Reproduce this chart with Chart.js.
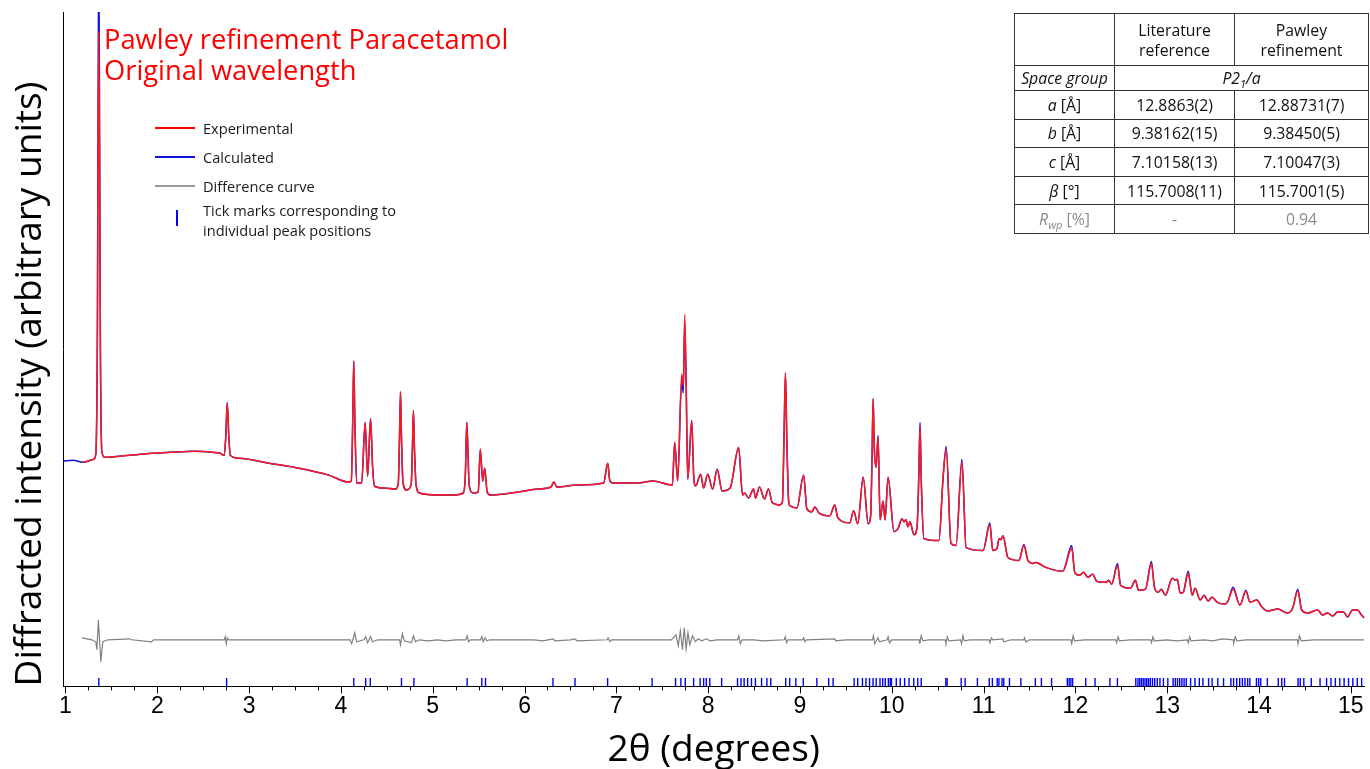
<!DOCTYPE html>
<html>
<head>
<meta charset="utf-8">
<script src="https://cdn.jsdelivr.net/npm/chart.js@4.4.1/dist/chart.umd.min.js"></script>
<style>
  html, body { margin: 0; padding: 0; background: #fff; }
  #wrap { position: relative; width: 1370px; height: 769px; overflow: hidden; }
  #wrap canvas { position: absolute; left: 0; top: 0; }
  .title { position: absolute; left: 104px; top: 23px; color: #f00; font-family: 'Open Sans', sans-serif; font-size: 27.3px; line-height: 31px; white-space: nowrap; }
  .lg { position: absolute; font-family: 'Open Sans', sans-serif; font-size: 14.6px; line-height: 20px; color: #1a1a1a; white-space: nowrap; }
  .sw { position: absolute; left: 155px; width: 40px; height: 2px; }
  .tick { position: absolute; left: 176px; width: 2px; height: 16px; background: #0000ff; }
  table { position: absolute; left: 1014px; top: 13px; border-collapse: collapse; font-family: 'Open Sans', sans-serif; font-size: 15.8px; color: #111; }
  td { border: 1px solid #333; text-align: center; padding: 0; line-height: 20px; }
  tr { height: 28.6px; }
  tr.head { height: 52px; }
  tr.sg { height: 25px; }
  .it { font-style: italic; }
  .grey { color: #8a8a8a; }
  sub { font-size: 11px; line-height: 0; }
</style>
</head>
<body>
<div id="wrap">
  <canvas id="mainChart" width="1370" height="769"></canvas>
  <div class="title">Pawley refinement Paracetamol<br>Original wavelength</div>

  <div class="sw" style="top:127px;background:#ff0000"></div>
  <div class="lg" style="left:203px;top:118px">Experimental</div>
  <div class="sw" style="top:156px;background:#1010e0"></div>
  <div class="lg" style="left:203px;top:147px">Calculated</div>
  <div class="sw" style="top:185px;background:#9a9a9a"></div>
  <div class="lg" style="left:203px;top:176px">Difference curve</div>
  <div class="tick" style="top:210px"></div>
  <div class="lg" style="left:203px;top:200px">Tick marks corresponding to<br>individual peak positions</div>

  <table>
    <colgroup><col style="width:100px"><col style="width:120px"><col style="width:134px"></colgroup>
    <tr class="head"><td></td><td>Literature<br>reference</td><td>Pawley<br>refinement</td></tr>
    <tr class="sg"><td class="it">Space group</td><td colspan="2" class="it">P2<sub>1</sub>/a</td></tr>
    <tr><td><span class="it">a</span> [Å]</td><td>12.8863(2)</td><td>12.88731(7)</td></tr>
    <tr><td><span class="it">b</span> [Å]</td><td>9.38162(15)</td><td>9.38450(5)</td></tr>
    <tr><td><span class="it">c</span> [Å]</td><td>7.10158(13)</td><td>7.10047(3)</td></tr>
    <tr><td><span class="it">β</span> [°]</td><td>115.7008(11)</td><td>115.7001(5)</td></tr>
    <tr class="grey"><td><span class="it">R<sub>wp</sub></span> [%]</td><td>-</td><td>0.94</td></tr>
  </table>
</div>
<script>
// 2θ grid shared by the experimental and calculated profiles
const twoTheta = [
  0.975, 1.08, 1.19, 1.309, 1.331, 1.347, 1.363, 1.380, 1.396, 1.428,
  1.70, 1.938, 2.144, 2.404, 2.60, 2.686, 2.729, 2.746, 2.762, 2.779,
  2.795, 2.893, 3.218, 3.543, 3.869, 4.085, 4.113, 4.129, 4.140, 4.152,
  4.172, 4.226, 4.264, 4.291, 4.323, 4.345, 4.366, 4.465, 4.595, 4.625,
  4.638, 4.649, 4.660, 4.676, 4.714, 4.765, 4.779, 4.790, 4.801, 4.818,
  4.855, 5.062, 5.225, 5.333, 5.355, 5.371, 5.398, 5.442, 5.496, 5.518,
  5.545, 5.566, 5.593, 5.626, 5.929, 6.146, 6.287, 6.320, 6.352, 6.580,
  6.862, 6.906, 6.928, 6.960, 7.236, 7.396, 7.610, 7.636, 7.668, 7.712,
  7.729, 7.745, 7.762, 7.778, 7.821, 7.843, 7.864, 7.918, 7.951, 7.995,
  8.049, 8.098, 8.152, 8.239, 8.332, 8.375, 8.397, 8.440, 8.494, 8.516,
  8.559, 8.613, 8.657, 8.700, 8.776, 8.809, 8.826, 8.842, 8.857, 8.878,
  8.891, 8.967, 9.040, 9.075, 9.130, 9.162, 9.206, 9.325, 9.379, 9.412,
  9.542, 9.585, 9.629, 9.689, 9.743, 9.770, 9.785, 9.797, 9.810, 9.829,
  9.851, 9.873, 9.905, 9.927, 9.960, 10.024, 10.068, 10.111, 10.133, 10.155,
  10.176, 10.198, 10.241, 10.275, 10.294, 10.308, 10.322, 10.350, 10.513, 10.560,
  10.593, 10.645, 10.700, 10.764, 10.810, 10.995, 11.068, 11.100, 11.146, 11.168,
  11.190, 11.211, 11.265, 11.385, 11.439, 11.483, 11.537, 11.569, 11.678, 11.862,
  11.960, 11.993, 12.047, 12.090, 12.134, 12.188, 12.232, 12.340, 12.362, 12.395,
  12.459, 12.492, 12.600, 12.654, 12.687, 12.763, 12.828, 12.861, 12.904, 12.937,
  12.980, 13.056, 13.088, 13.110, 13.142, 13.175, 13.229, 13.272, 13.304, 13.359,
  13.402, 13.446, 13.489, 13.543, 13.630, 13.662, 13.717, 13.792, 13.858, 13.901,
  13.977, 14.031, 14.096, 14.205, 14.313, 14.367, 14.422, 14.465, 14.530, 14.639,
  14.693, 14.747, 14.802, 14.856, 14.921, 14.964, 15.019, 15.073, 15.116, 15.148
];
const observed = [
  null, null, 226, 229, 235, 342, 660, 342, 237, 231,
  233, 235, 236, 237, 236, 235, 233, 252, 286, 252,
  233, 230, 225, 220, 213, 206, 207, 268, 328, 268,
  205, 205, 266, 212, 270, 222, 202, 200, 199, 205,
  250, 297, 250, 206, 198, 203, 240, 278, 240, 204,
  195, 193, 193, 195, 212, 266, 202, 195, 196, 239,
  207, 220, 196, 193, 196, 199, 201, 206, 201, 203,
  205, 225, 208, 205, 205, 207, 203, 246, 207, 315,
  303, 375, 292, 209, 268, 212, 202, 214, 200, 214,
  199, 219, 197, 200, 241, 193, 195, 190, 199, 190,
  201, 189, 199, 185, 183, 186, 249, 316, 249, 185,
  182, 180, 213, 179, 176, 181, 175, 172, 183, 170,
  165, 177, 164, 211, 164, 172, 230, 290, 240, 221,
  251, 168, 187, 168, 211, 156, 159, 169, 166, 168,
  161, 166, 153, 160, 210, 263, 205, 149, 147, 212,
  239, 144, 142, 226, 140, 137, 163, 137, 139, 149,
  148, 152, 130, 127, 142, 127, 124, 125, 120, 116,
  139, 115, 112, 115, 110, 113, 106, 105, 107, 103,
  122, 102, 99, 107, 97, 98, 124, 100, 95, 98,
  92, 109, 107, 108, 94, 95, 114, 92, 99, 87,
  92, 86, 90, 85, 83, 86, 98, 82, 96, 85,
  87, 80, 76, 78, 74, 79, 96, 77, 74, 77,
  72, 74, 71, 75, 75, 70, 77, 77, 72, 69
];
const calculated = [
  227, 228, 226, 229, 235, 350, 760, 350, 237, 231,
  233, 235, 236, 237, 236, 235, 233, 252, 286, 252,
  233, 230, 225, 220, 213, 206, 207, 268, 328, 268,
  205, 205, 266, 212, 270, 222, 202, 200, 199, 205,
  250, 297, 250, 206, 198, 203, 240, 278, 240, 204,
  195, 193, 193, 195, 212, 266, 202, 195, 196, 239,
  207, 220, 196, 193, 196, 199, 201, 206, 201, 203,
  205, 225, 208, 205, 205, 207, 203, 246, 207, 309,
  296, 368, 297, 209, 268, 212, 202, 214, 200, 214,
  199, 219, 197, 200, 241, 193, 195, 190, 199, 190,
  201, 189, 199, 185, 183, 186, 249, 316, 249, 185,
  182, 180, 213, 179, 176, 181, 175, 172, 183, 170,
  165, 177, 164, 211, 164, 172, 230, 290, 240, 221,
  253, 168, 187, 168, 211, 156, 159, 169, 166, 168,
  161, 166, 153, 160, 210, 266, 205, 149, 147, 212,
  242, 144, 142, 229, 140, 137, 165, 137, 139, 149,
  148, 152, 130, 127, 143, 127, 124, 125, 120, 116,
  142, 115, 112, 115, 110, 113, 106, 105, 107, 103,
  124, 102, 99, 107, 97, 98, 126, 100, 95, 98,
  92, 109, 107, 108, 94, 95, 116, 92, 99, 87,
  92, 86, 90, 85, 83, 86, 100, 82, 97, 85,
  87, 80, 76, 78, 74, 79, 98, 77, 74, 77,
  72, 74, 71, 75, 75, 70, 77, 77, 72, 69
];

// difference curve (offset below the pattern)
const diffTheta = [
  1.179, 1.287, 1.330, 1.342, 1.358, 1.385, 1.407, 1.461, 1.70, 1.72,
  1.938, 1.96, 2.60, 2.73, 2.74, 2.752, 2.762, 2.78, 4.10, 4.118,
  4.151, 4.172, 4.25, 4.27, 4.291, 4.323, 4.345, 4.40, 4.64, 4.649,
  4.67, 4.69, 4.768, 4.79, 4.812, 4.85, 4.95, 5.05, 5.15, 5.25,
  5.36, 5.375, 5.39, 5.41, 5.52, 5.535, 5.55, 5.57, 5.59, 5.62,
  6.10, 6.20, 6.31, 6.33, 6.50, 6.55, 6.57, 6.90, 6.91, 6.93,
  6.95, 7.60, 7.65, 7.675, 7.697, 7.72, 7.74, 7.76, 7.78, 7.80,
  7.83, 7.86, 7.89, 7.93, 7.98, 8.02, 8.10, 8.32, 8.335, 8.35,
  8.37, 8.50, 8.60, 8.83, 8.84, 8.855, 8.87, 9.03, 9.04, 9.055,
  9.07, 9.38, 9.39, 9.50, 9.79, 9.80, 9.815, 9.85, 9.865, 9.95,
  9.96, 9.975, 10.00, 10.30, 10.305, 10.32, 10.34, 10.40, 10.58, 10.59,
  10.605, 10.62, 10.75, 10.76, 10.775, 10.79, 10.85, 11.06, 11.07, 11.085,
  11.10, 11.21, 11.22, 11.30, 11.44, 11.445, 11.46, 11.50, 11.95, 11.96,
  11.975, 11.99, 12.10, 12.44, 12.45, 12.465, 12.48, 12.60, 12.82, 12.83,
  12.845, 12.86, 13.00, 13.10, 13.22, 13.23, 13.245, 13.26, 13.40, 13.50,
  13.60, 13.72, 13.725, 13.74, 13.76, 13.86, 14.00, 14.42, 14.425, 14.44,
  14.46, 14.60, 15.148
];
const difference = [
  49, 47, 45, 37, 67, 25, 45, 47, 48, 47,
  45, 47, 47, 47, 50, 43, 49, 47, 47, 43,
  54, 45, 47, 50, 44, 50, 45, 47, 47, 42,
  53, 46, 44, 51, 45, 47, 46, 47, 46, 47,
  47, 51, 45, 47, 47, 50, 45, 49, 46, 47,
  47, 46, 48, 46, 47, 48, 46, 47, 49, 45,
  47, 47, 52, 41, 56, 37, 59, 38, 54, 42,
  51, 45, 48, 46, 48, 46, 47, 47, 51, 43,
  47, 47, 46, 47, 50, 44, 47, 47, 49, 45,
  47, 48, 46, 47, 47, 51, 43, 49, 45, 47,
  50, 44, 47, 47, 43, 51, 46, 47, 47, 44,
  50, 46, 47, 43, 51, 46, 47, 47, 44, 49,
  47, 48, 45, 47, 47, 49, 45, 47, 47, 43,
  51, 46, 47, 47, 44, 50, 46, 47, 47, 44,
  50, 46, 47, 46, 47, 44, 50, 46, 47, 46,
  48, 47, 44, 50, 46, 47, 47, 47, 43, 51,
  46, 47, 47
];

// reflection positions (tick marks)
const reflections = [
  1.363, 2.755, 4.140, 4.270, 4.320, 4.660, 4.795, 5.375, 5.535, 5.575,
  6.310, 6.550, 6.905, 7.390, 7.645, 7.703, 7.751, 7.842, 7.913, 7.951,
  7.980, 8.018, 8.147, 8.320, 8.358, 8.392, 8.430, 8.472, 8.515, 8.582,
  8.640, 8.682, 8.845, 8.888, 8.955, 9.036, 9.184, 9.313, 9.361, 9.590,
  9.629, 9.681, 9.719, 9.758, 9.796, 9.830, 9.872, 9.901, 9.929, 9.963,
  9.983, 9.997, 10.049, 10.092, 10.140, 10.188, 10.240, 10.283, 10.321, 10.589,
  10.603, 10.756, 10.799, 10.933, 11.062, 11.096, 11.148, 11.167, 11.201, 11.220,
  11.282, 11.406, 11.564, 11.630, 11.741, 11.912, 11.932, 11.951, 11.970, 12.113,
  12.214, 12.376, 12.458, 12.658, 12.682, 12.701, 12.720, 12.739, 12.758, 12.777,
  12.796, 12.816, 12.840, 12.864, 12.892, 12.921, 12.959, 13.007, 13.064, 13.088,
  13.112, 13.136, 13.160, 13.184, 13.208, 13.255, 13.303, 13.350, 13.389, 13.451,
  13.489, 13.551, 13.614, 13.694, 13.723, 13.757, 13.790, 13.819, 13.847, 13.876,
  13.900, 13.972, 13.996, 14.019, 14.091, 14.210, 14.248, 14.278, 14.425, 14.449,
  14.488, 14.569, 14.665, 14.736, 14.784, 14.832, 14.880, 14.927, 14.975, 15.022,
  15.070, 15.118
];

const isWhole = v => Math.abs(v - Math.round(v)) < 1e-6;

// major (whole degrees) and minor (0.25°) tick marks under the x axis
const axisTicks = {
  id: 'axisTicks',
  afterDraw(chart) {
    const x = chart.scales.x;
    const ctx = chart.ctx;
    ctx.save();
    ctx.strokeStyle = '#000';
    ctx.lineWidth = 1;
    x.ticks.forEach(t => {
      const px = Math.round(x.getPixelForValue(t.value)) + 0.5;
      const len = isWhole(t.value) ? 7 : 4;
      ctx.beginPath();
      ctx.moveTo(px, x.top);
      ctx.lineTo(px, x.top + len);
      ctx.stroke();
    });
    ctx.restore();
  }
};

function pts(xs, ys) {
  return xs.map((v, i) => ({ x: v, y: ys[i] }));
}

new Chart(document.getElementById('mainChart'), {
  type: 'scatter',
  data: {
    datasets: [
      {
        label: 'Experimental',
        data: pts(twoTheta, observed),
        showLine: true, borderColor: '#ff1a1a', borderWidth: 1.5,
        cubicInterpolationMode: 'monotone',
        pointRadius: 0, order: 0
      },
      {
        label: 'Calculated',
        data: pts(twoTheta, calculated),
        showLine: true, borderColor: '#1010e0', borderWidth: 1.5,
        cubicInterpolationMode: 'monotone',
        pointRadius: 0, order: 1
      },
      {
        label: 'Difference curve',
        data: pts(diffTheta, difference),
        showLine: true, borderColor: '#808080', borderWidth: 1.2,
        pointRadius: 0, order: 2
      },
      {
        label: 'Tick marks',
        data: reflections.map(v => ({ x: v, y: 4.2 })),
        showLine: false, pointStyle: 'line', rotation: 90,
        pointRadius: 4.2, borderColor: '#0000ff', borderWidth: 1.4,
        order: 3
      }
    ]
  },
  options: {
    responsive: false,
    animation: false,
    events: [],
    layout: { padding: { left: 8, top: 12, right: 0, bottom: 0 } },
    plugins: { legend: { display: false }, tooltip: { enabled: false } },
    scales: {
      x: {
        type: 'linear', min: 0.973, max: 15.148,
        grid: { display: false, drawTicks: false },
        border: { display: true, color: '#000', width: 1 },
        ticks: {
          stepSize: 0.25, includeBounds: false, autoSkip: false, maxRotation: 0,
          padding: 6, color: '#000',
          font: { family: "'Liberation Sans Narrow', 'Liberation Sans', sans-serif", size: 23, lineHeight: 1.2 },
          callback: v => isWhole(v) ? String(Math.round(v)) : ''
        },
        title: {
          display: true, text: '2θ (degrees)', color: '#000',
          font: { family: "'Open Sans', sans-serif", size: 37, lineHeight: 1 },
          padding: { top: 6, bottom: 0 }
        }
      },
      y: {
        type: 'linear', min: 0, max: 680,
        grid: { display: false, drawTicks: false },
        border: { display: true, color: '#000', width: 1 },
        ticks: { display: false },
        title: {
          display: true, text: 'Diffracted intensity (arbitrary units)', color: '#000',
          align: 'start',
          font: { family: "'Open Sans', sans-serif", size: 37, lineHeight: 1.2 },
          padding: { top: 0, bottom: 10.6 }
        }
      }
    }
  },
  plugins: [axisTicks]
});
</script>
</body>
</html>
